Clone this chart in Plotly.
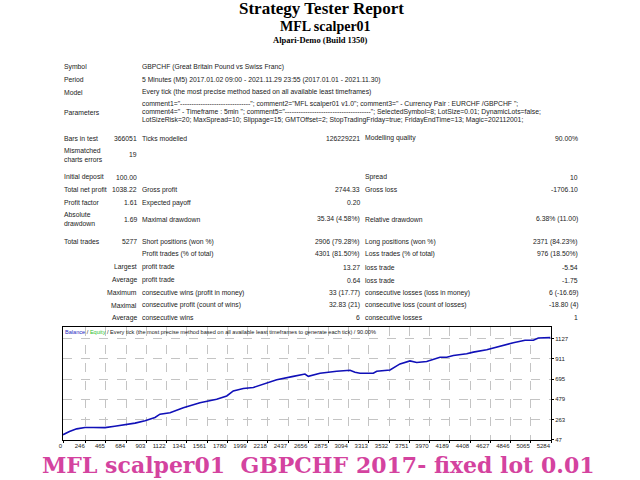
import plotly.graph_objects as go

W, H = 640, 480

# ---------------- data ----------------
trade_no = [0, 70, 148, 238, 330, 455, 560, 670, 780, 888, 996, 1050, 1159, 1303,
            1483, 1664, 1773, 1844, 1952, 2061, 2169, 2314, 2494, 2620, 2656, 2783,
            2964, 3108, 3162, 3216, 3360, 3397, 3541, 3595, 3649, 3757, 3830, 3938,
            4082, 4155, 4227, 4371, 4443, 4588, 4732, 4876, 5003, 5093, 5147, 5277]
balance = [100, 135, 163, 177, 178, 176, 190, 206, 224, 249, 285, 320, 335, 389,
           443, 479, 515, 569, 595, 605, 641, 688, 724, 749, 724, 757,
           778, 789, 767, 757, 757, 778, 792, 829, 857, 889, 872, 883,
           929, 929, 947, 965, 983, 1008, 1048, 1084, 1110, 1110, 1134, 1138]

x_ticks = [0, 246, 465, 684, 903, 1122, 1341, 1561, 1780, 1999, 2218, 2437, 2656,
           2875, 3094, 3313, 3532, 3751, 3970, 4189, 4408, 4627, 4846, 5065, 5284]
y_ticks = [47, 263, 479, 695, 911, 1127]

titles = ["Strategy Tester Report", "MFL scalper01", "Alpari-Demo (Build 1350)"]

info_labels = ["Symbol", "Period", "Model", "Parameters"]
info_values = [
    "GBPCHF (Great Britain Pound vs Swiss Franc)",
    "5 Minutes (M5) 2017.01.02 09:00 - 2021.11.29 23:55 (2017.01.01 - 2021.11.30)",
    "Every tick (the most precise method based on all available least timeframes)",
]
param_lines = [
    'comment1="' + "-" * 31 + '"; comment2="MFL scalper01 v1.0"; comment3=" - Currency Pair : EURCHF /GBPCHF ";',
    'comment4=" - Timeframe : 5min "; comment5="' + "-" * 38 + '"; SelectedSymbol=8; LotSize=0.01; DynamicLots=false;',
    "LotSizeRisk=20; MaxSpread=10; Slippage=15; GMTOffset=2; StopTradingFriday=true; FridayEndTime=13; Magic=202112001;",
]

c1_labels = ["Bars in test", "Mismatched<br>charts errors", "Initial deposit", "Total net profit",
             "Profit factor", "Absolute<br>drawdown", "Total trades", "", "", "", "", "", ""]
c1_values = ["366051", "19", "100.00", "1038.22", "1.61", "1.69", "5277", "",
             "Largest", "Average", "Maximum", "Maximal", "Average"]
c2_labels = ["Ticks modelled", "", "", "Gross profit", "Expected payoff", "Maximal drawdown",
             "Short positions (won %)", "Profit trades (% of total)", "profit trade", "profit trade",
             "consecutive wins (profit in money)", "consecutive profit (count of wins)", "consecutive wins"]
c2_values = ["126229221", "", "", "2744.33", "0.20", "35.34 (4.58%)", "2906 (79.28%)",
             "4301 (81.50%)", "13.27", "0.64", "33 (17.77)", "32.83 (21)", "6"]
c3_labels = ["Modelling quality", "", "Spread", "Gross loss", "", "Relative drawdown",
             "Long positions (won %)", "Loss trades (% of total)", "loss trade", "loss trade",
             "consecutive losses (loss in money)", "consecutive loss (count of losses)", "consecutive losses"]
c3_values = ["90.00%", "", "10", "-1706.10", "", "6.38% (11.00)", "2371 (84.23%)",
             "976 (18.50%)", "-5.54", "-1.75", "6 (-16.69)", "-18.80 (4)", "1"]

chart_caption = ("<span style='color:#1f1fbf'>Balance</span> / "
                 "<span style='color:#2fbf2f'>Equity</span> / Every tick (the most precise method "
                 "based on all available least timeframes to generate each tick) / 90.00%")
footer = "MFL scalper01  GBPCHF 2017- fixed lot 0.01"

# ---------------- layout positions (pixels) ----------------
info_y = [66.5, 79.5, 92, 112.3]
param_y = [104, 112.3, 120.5]
row_y = [138.3, 154.5, 177, 190, 202.7, 219, 241.7, 254.2, 267.3, 280, 292.7, 305.2, 317.5]
X_LBL, X_V1, X_L2, X_V2, X_L3, X_V3 = 63, 138, 141, 360.5, 364, 579

TXT = dict(family="Liberation Sans", size=6.8, color="#222222")


def px(x, y):
    return x / W, 1 - y / H


annotations = []


def add(text, x, y, xanchor="left", font=None):
    fx, fy = px(x, y)
    annotations.append(dict(text=text, x=fx, y=fy, xref="paper", yref="paper",
                            xanchor=xanchor, yanchor="middle", showarrow=False,
                            font=font or TXT, borderpad=0,
                            align=xanchor if xanchor != "center" else "center"))


add("<b>" + titles[0] + "</b>", 321, 8.5, "center", dict(family="Liberation Serif", size=17, color="#000"))
add("<b>" + titles[1] + "</b>", 325, 26, "center", dict(family="Liberation Serif", size=14, color="#000"))
add("<b>" + titles[2] + "</b>", 320, 40, "center", dict(family="Liberation Serif", size=8.5, color="#000"))

for lbl, yy in zip(info_labels, info_y):
    add(lbl, X_LBL, yy)
for val, yy in zip(info_values, info_y):
    add(val, X_L2, yy)
for line, yy in zip(param_lines, param_y):
    add(line, X_L2, yy)

for i, yy in enumerate(row_y):
    if c1_labels[i]:
        add(c1_labels[i], X_LBL, yy)
    if c1_values[i]:
        add(c1_values[i], X_V1, yy, "right")
    if c2_labels[i]:
        add(c2_labels[i], X_L2, yy)
    if c2_values[i]:
        add(c2_values[i], X_V2, yy, "right")
    if c3_labels[i]:
        add(c3_labels[i], X_L3, yy)
    if c3_values[i]:
        add(c3_values[i], X_V3, yy, "right")

add(chart_caption, 64, 331.5, "left", dict(family="Liberation Sans", size=5.6, color="#222"))
add("<b>" + footer + "</b>", 318, 465, "center", dict(family="DejaVu Serif", size=22, color="#d4439f"))

# ---------------- figure ----------------
fig = go.Figure()
fig.add_trace(go.Scatter(x=trade_no, y=balance, mode="lines",
                         line=dict(color="#1010b8", width=1.6), hoverinfo="skip"))

x0, x1 = 63 / W, 551 / W
y0, y1 = 1 - 439.7 / H, 1 - 326.7 / H

fig.update_layout(
    width=W, height=H,
    margin=dict(l=0, r=0, t=0, b=0),
    paper_bgcolor="white", plot_bgcolor="white",
    showlegend=False,
    annotations=annotations,
    xaxis=dict(domain=[x0, x1], range=[0, 5284], tickvals=x_ticks,
               ticktext=[str(v) for v in x_ticks], tickangle=0,
               showgrid=True, gridcolor="#c4c4c4", griddash="dash", gridwidth=1,
               showline=True, linecolor="#000", linewidth=1, mirror=True,
               ticks="outside", ticklen=2, tickcolor="#000",
               ticklabelposition="outside left",
               tickfont=dict(family="Liberation Sans", size=6, color="#222"),
               zeroline=False, automargin=False, fixedrange=True),
    yaxis=dict(domain=[y0, y1], range=[47, 1255], tickvals=y_ticks, side="right",
               showgrid=True, gridcolor="#c4c4c4", griddash="dash", gridwidth=1,
               showline=True, linecolor="#000", linewidth=1, mirror=True,
               ticks="outside", ticklen=2, tickcolor="#000",
               tickfont=dict(family="Liberation Sans", size=6, color="#222"),
               zeroline=False, automargin=False, fixedrange=True),
)

fig.write_html("out.html", config={"displayModeBar": False},
               post_script="document.body.style.margin='0';document.body.style.overflow='hidden';")
